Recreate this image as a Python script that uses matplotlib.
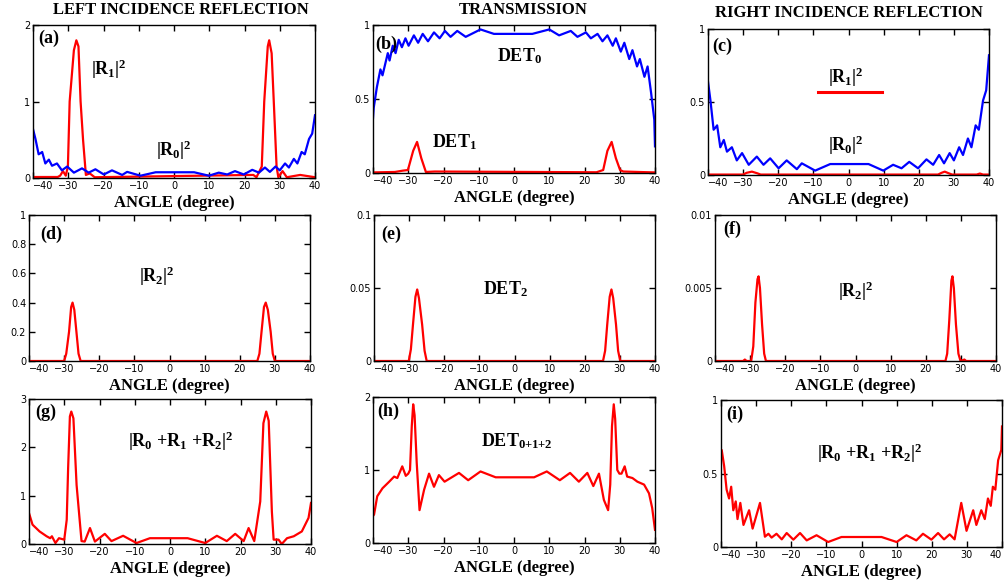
import matplotlib
matplotlib.use('Agg')
import matplotlib.pyplot as plt

plt.rcParams['mathtext.fontset'] = 'custom'
plt.rcParams['mathtext.rm'] = 'Liberation Serif:bold'
plt.rcParams['mathtext.it'] = 'Liberation Serif:bold'
plt.rcParams['mathtext.bf'] = 'Liberation Serif:bold'

# |R0|^2 (same curve for left and right incidence)
r0_x = [-40, -39.3, -38.4, -37.7, -37.4, -36.5, -35.5, -34.6, -33.2, -31.8, -30.3, -28.4, -26.1,
        -24.2, -22.3, -19.9, -17.6, -14.7, -13.3, -9.5, -5.2, 5.7, 9.9, 12.7, 15.1, 17.3, 19.8,
        22.2, 24.1, 25.8, 27.2, 28.8, 30, 31.5, 32.6, 34, 35, 36.2, 37.1, 38.3, 39.2, 40]
r0_y = [0.64, 0.51, 0.31, 0.33, 0.34, 0.19, 0.24, 0.16, 0.19, 0.10, 0.15, 0.07, 0.126,
        0.07, 0.114, 0.046, 0.10, 0.04, 0.08, 0.03, 0.075, 0.075, 0.03, 0.07, 0.046, 0.09, 0.046,
        0.107, 0.07, 0.137, 0.08, 0.15, 0.10, 0.19, 0.137, 0.25, 0.19, 0.34, 0.31, 0.51, 0.58, 0.82]

# |R1|^2 left incidence
r1_x = [-40, -33, -32.3, -31.5, -30.7, -30.1, -29.6, -28.4, -27.7, -27.1, -26.5, -25.8, -25,
        -23.9, -22.5, 22.5, 23.4, 24.9, 25.6, 26.6, 27, 27.7, 28.4, 29.1, 29.6, 30.8, 32, 35.8, 40]
r1_y = [0.013, 0.013, 0.03, 0.09, 0.03, 0.15, 1.0, 1.67, 1.8, 1.72, 1.0, 0.5, 0.04,
        0.06, 0.01, 0.04, 0.01, 0.15, 1.0, 1.72, 1.8, 1.63, 0.9, 0.15, 0.01, 0.09, 0.01, 0.04, 0.01]

# DET0 and DET1 transmission
det0_x = [-40, -39.8, -38.9, -37.9, -37.3, -36.5, -35.8, -35.3, -34.4, -33.6, -32.7, -31.8,
          -30.8, -29.9, -28.4, -27.2, -25.9, -24.4, -22.7, -21.1, -19.6, -18.0, -16.1, -13.7,
          -9.5, -5.7, 5.2, 10, 12.8, 16.1, 18, 20.4, 21.8, 23.7, 25.1, 26.5, 28, 28.9, 30.3,
          31.3, 32.7, 33.6, 34.9, 35.7, 37, 37.9, 38.9, 39.8, 40]
det0_y = [0.37, 0.44, 0.58, 0.70, 0.66, 0.74, 0.81, 0.76, 0.86, 0.81, 0.90, 0.85,
          0.91, 0.86, 0.93, 0.88, 0.94, 0.89, 0.95, 0.91, 0.96, 0.92, 0.96, 0.92,
          0.97, 0.94, 0.94, 0.97, 0.93, 0.96, 0.92, 0.95, 0.91, 0.94, 0.89, 0.93, 0.86, 0.91, 0.82,
          0.88, 0.77, 0.83, 0.72, 0.77, 0.65, 0.72, 0.54, 0.36, 0.18]
det1_x = [-40, -33.8, -31.5, -30.1, -28.6, -27.5, -26.3, -25, -22.5, 23.4, 25.3, 26.5, 27.7,
          28.9, 30.1, 31, 36.7, 40]
det1_y = [0.004, 0.007, 0.016, 0.02, 0.15, 0.21, 0.10, 0.007, 0.01, 0.005, 0.02, 0.15, 0.21,
          0.10, 0.02, 0.01, 0.006, 0.004]

# |R1|^2 right incidence
r1r_x = [-40, -30, -29, -27.5, -26, -25, 25.5, 26.5, 27.4, 28.5, 29.5, 36.5, 37.4, 38.3, 40]
r1r_y = [0.003, 0.003, 0.015, 0.023, 0.012, 0.003, 0.003, 0.015, 0.023, 0.012, 0.003, 0.003, 0.01, 0.003, 0.003]

# |R2|^2 left incidence
r2_x = [-40, -30, -29.4, -28.6, -28.0, -27.6, -27.1, -26.5, -25.9, -25.3,
        25.0, 25.6, 26.2, 26.9, 27.4, 28.0, 28.8, 29.4, 30, 40]
r2_y = [0, 0, 0.05, 0.2, 0.37, 0.4, 0.35, 0.2, 0.05, 0,
        0, 0.05, 0.2, 0.37, 0.4, 0.35, 0.2, 0.05, 0, 0]

# DET2
det2_x = [-40, -30.1, -29.5, -28.9, -28.2, -27.7, -27.2, -26.3, -25.6, -25.0,
          25.2, 25.8, 26.4, 27.1, 27.6, 28.1, 28.9, 29.5, 30.1, 40]
det2_y = [0, 0, 0.008, 0.025, 0.044, 0.049, 0.043, 0.025, 0.007, 0,
          0, 0.007, 0.025, 0.044, 0.049, 0.043, 0.025, 0.007, 0, 0]

# |R2|^2 right incidence
r2r_x = [-40, -32, -31.5, -31, -29.7, -29.1, -28.5, -27.9, -27.6, -27.2, -26.6, -26.0, -25.5,
         25.6, 26.1, 26.7, 27.3, 27.6, 28.0, 28.6, 29.3, 29.9, 31, 31.5, 40]
r2r_y = [0, 0, 0.0001, 0, 0, 0.001, 0.004, 0.0056, 0.0058, 0.005, 0.0025, 0.0005, 0,
         0, 0.0005, 0.0028, 0.0055, 0.0058, 0.005, 0.0025, 0.0005, 0, 0.0001, 0, 0]

# |R0+R1+R2|^2 left incidence
sum_l_x = [-40, -39, -37, -35, -34, -33.5, -32.5, -31.5, -30, -29.3, -28.9, -28.4, -28, -27.4,
           -26.5, -25.1, -24.2, -22.7, -21.3, -18.5, -16.6, -13.3, -9.5, -5.7, 5, 10, 13.3,
           16.1, 18.5, 20.9, 22.3, 23.9, 25.6, 26.5, 27.3, 28, 28.9, 29.4, 30.8, 31.7, 33.2,
           35.1, 37.4, 39.3, 40]
sum_l_y = [0.64, 0.40, 0.26, 0.16, 0.12, 0.16, 0.02, 0.12, 0.09, 0.5, 1.57, 2.64, 2.74, 2.6,
           1.22, 0.06, 0.05, 0.33, 0.05, 0.21, 0.06, 0.17, 0.02, 0.12, 0.12, 0.02, 0.17,
           0.06, 0.21, 0.06, 0.33, 0.06, 0.88, 2.5, 2.74, 2.55, 0.67, 0.09, 0.09, 0.0, 0.12,
           0.16, 0.26, 0.54, 0.85]

# DET0+1+2
det_sum_x = [-40, -39.7, -38.8, -37.3, -35.4, -34, -33.1, -31.7, -30.7, -30, -29.5, -29.0,
             -28.6, -28.2, -27.6, -26.8, -25.5, -24.1, -22.7, -21.3, -19.7, -15.6, -13,
             -9.5, -5.2, 5.7, 9.3, 13, 15.9, 18.4, 20.8, 22.5, 24.1, 25.5, 26.7, 27.3, 27.8,
             28.3, 28.7, 29.3, 29.9, 30.5, 31.4, 32.1, 33.6, 35, 36.9, 38.3, 39.2, 40]
det_sum_y = [0.37, 0.39, 0.64, 0.75, 0.84, 0.91, 0.89, 1.05, 0.92, 0.95, 1.0, 1.6,
             1.9, 1.75, 1.1, 0.45, 0.73, 0.95, 0.77, 0.93, 0.84, 0.96, 0.86,
             0.98, 0.9, 0.9, 0.98, 0.86, 0.96, 0.84, 0.96, 0.78, 0.95, 0.59, 0.45, 0.8, 1.6,
             1.9, 1.7, 1.0, 0.95, 0.95, 1.05, 0.91, 0.89, 0.84, 0.8, 0.68, 0.48, 0.18]

# |R0+R1+R2|^2 right incidence
sum_r_x = [-40, -39.8, -39.1, -38.4, -37.7, -37.1, -36.5, -35.8, -35.3, -34.5, -33.6, -32,
           -31, -28.9, -27.5, -26.5, -25.6, -24.2, -22.7, -21.3, -19.4, -17.5, -15.6, -12.8,
           -9.5, -5.7, 5.7, 10, 12.8, 15.6, 17.5, 19.9, 21.8, 23.5, 25.1, 26.5, 28.4, 29.9,
           31.8, 32.7, 34.1, 35.1, 36, 36.8, 37.4, 38.1, 38.9, 39.8, 40]
sum_r_y = [0.66, 0.66, 0.55, 0.39, 0.33, 0.41, 0.25, 0.31, 0.19, 0.30, 0.15, 0.25,
           0.125, 0.30, 0.07, 0.09, 0.064, 0.09, 0.052, 0.095, 0.05, 0.095, 0.045, 0.08,
           0.034, 0.068, 0.068, 0.034, 0.08, 0.045, 0.09, 0.05, 0.095, 0.052, 0.086, 0.052, 0.30, 0.11,
           0.25, 0.15, 0.25, 0.19, 0.33, 0.28, 0.41, 0.39, 0.59, 0.66, 0.82]

W, H = 1006, 584
fig = plt.figure(figsize=(W / 100, H / 100), dpi=100)


def make_ax(left, right, top, bottom, ylim, yticks, yticklabels, last_right=False):
    ax = fig.add_axes([left / W, 1 - bottom / H, (right - left) / W, (bottom - top) / H])
    ax.set_xlim(-40, 40)
    ax.set_ylim(*ylim)
    ax.set_xticks(range(-40, 41, 10))
    ax.set_yticks(yticks)
    ax.set_yticklabels(yticklabels)
    ax.tick_params(direction='in', top=True, right=True, length=4, width=1,
                   labelsize=7, pad=2)
    labels = ax.get_xticklabels()
    labels[0].set_horizontalalignment('left')
    if last_right:
        labels[-1].set_horizontalalignment('right')
    for s in ax.spines.values():
        s.set_linewidth(1)
    ax.set_xlabel('ANGLE (degree)', fontfamily='Liberation Serif', fontweight='bold',
                  fontsize=12, labelpad=3)
    return ax


def put(ax, x, y, s, size=13):
    ax.text(x, y, s, transform=ax.transAxes, ha='center', va='center',
            fontsize=size, fontfamily='Liberation Serif', fontweight='bold')


lw = 1.6
red = '#ff0000'
blue = '#0000ff'

# (a)
ax = make_ax(33, 315, 25, 178, (0, 2), [0, 1, 2], ['0', '1', '2'])
ax.plot(r1_x, r1_y, color=red, lw=lw)
ax.plot(r0_x, r0_y, color=blue, lw=lw)
put(ax, 0.055, 0.91, '(a)')
put(ax, 0.27, 0.71, r'$|R_1|^2$')
put(ax, 0.50, 0.18, r'$|R_0|^2$')

# (b)
ax = make_ax(373, 655, 25, 173, (0, 1), [0, 0.5, 1], ['0', '0.5', '1'])
ax.plot(det1_x, det1_y, color=red, lw=lw)
ax.plot(det0_x, det0_y, color=blue, lw=lw)
put(ax, 0.046, 0.87, '(b)')
put(ax, 0.52, 0.79, r'$DET_0$')
put(ax, 0.29, 0.21, r'$DET_1$')

# (c)
ax = make_ax(708, 989, 29, 175, (0, 1), [0, 0.5, 1], ['0', '0.5', '1'])
ax.plot(r1r_x, r1r_y, color=red, lw=lw)
ax.plot(r0_x, r0_y, color=blue, lw=lw)
ax.plot([0.39, 0.62], [0.57, 0.57], transform=ax.transAxes, color=red, lw=2.2)
put(ax, 0.05, 0.88, '(c)')
put(ax, 0.49, 0.67, r'$|R_1|^2$')
put(ax, 0.49, 0.20, r'$|R_0|^2$')

# (d)
ax = make_ax(29, 310, 215, 361, (0, 1), [0, 0.2, 0.4, 0.6, 0.8, 1],
             ['0', '0.2', '0.4', '0.6', '0.8', '1'])
ax.plot(r2_x, r2_y, color=red, lw=lw)
put(ax, 0.08, 0.87, '(d)')
put(ax, 0.455, 0.58, r'$|R_2|^2$')

# (e)
ax = make_ax(374, 655, 215, 361, (0, 0.1), [0, 0.05, 0.1], ['0', '0.05', '0.1'])
ax.plot(det2_x, det2_y, color=red, lw=lw)
put(ax, 0.06, 0.87, '(e)')
put(ax, 0.466, 0.49, r'$DET_2$')

# (f)
ax = make_ax(715, 996, 215, 361, (0, 0.01), [0, 0.005, 0.01], ['0', '0.005', '0.01'])
ax.plot(r2r_x, r2r_y, color=red, lw=lw)
put(ax, 0.06, 0.90, '(f)')
put(ax, 0.50, 0.48, r'$|R_2|^2$')

# (g)
ax = make_ax(29, 311, 399, 544, (0, 3), [0, 1, 2, 3], ['0', '1', '2', '3'])
ax.plot(sum_l_x, sum_l_y, color=red, lw=lw)
put(ax, 0.06, 0.91, '(g)')
put(ax, 0.54, 0.71, r'$|R_0\ {+}R_1\ {+}R_2|^2$')

# (h)
ax = make_ax(373, 655, 397, 543, (0, 2), [0, 1, 2], ['0', '1', '2'])
ax.plot(det_sum_x, det_sum_y, color=red, lw=lw)
put(ax, 0.055, 0.90, '(h)')
put(ax, 0.51, 0.70, r'$DET_{0{+}1{+}2}$')

# (i)
ax = make_ax(721, 1002, 400, 547, (0, 1), [0, 0.5, 1], ['0', '0.5', '1'], last_right=True)
ax.plot(sum_r_x, sum_r_y, color=red, lw=lw)
put(ax, 0.05, 0.90, '(i)')
put(ax, 0.53, 0.64, r'$|R_0\ {+}R_1\ {+}R_2|^2$')

# column titles
for xc, yc, t in [(181, 10, 'LEFT INCIDENCE REFLECTION'), (523, 10, 'TRANSMISSION'),
                  (849, 13, 'RIGHT INCIDENCE REFLECTION')]:
    fig.text(xc / W, 1 - yc / H, t, ha='center', va='center', fontsize=12,
             fontfamily='Liberation Serif', fontweight='bold')

fig.savefig('out.png', dpi=100)
